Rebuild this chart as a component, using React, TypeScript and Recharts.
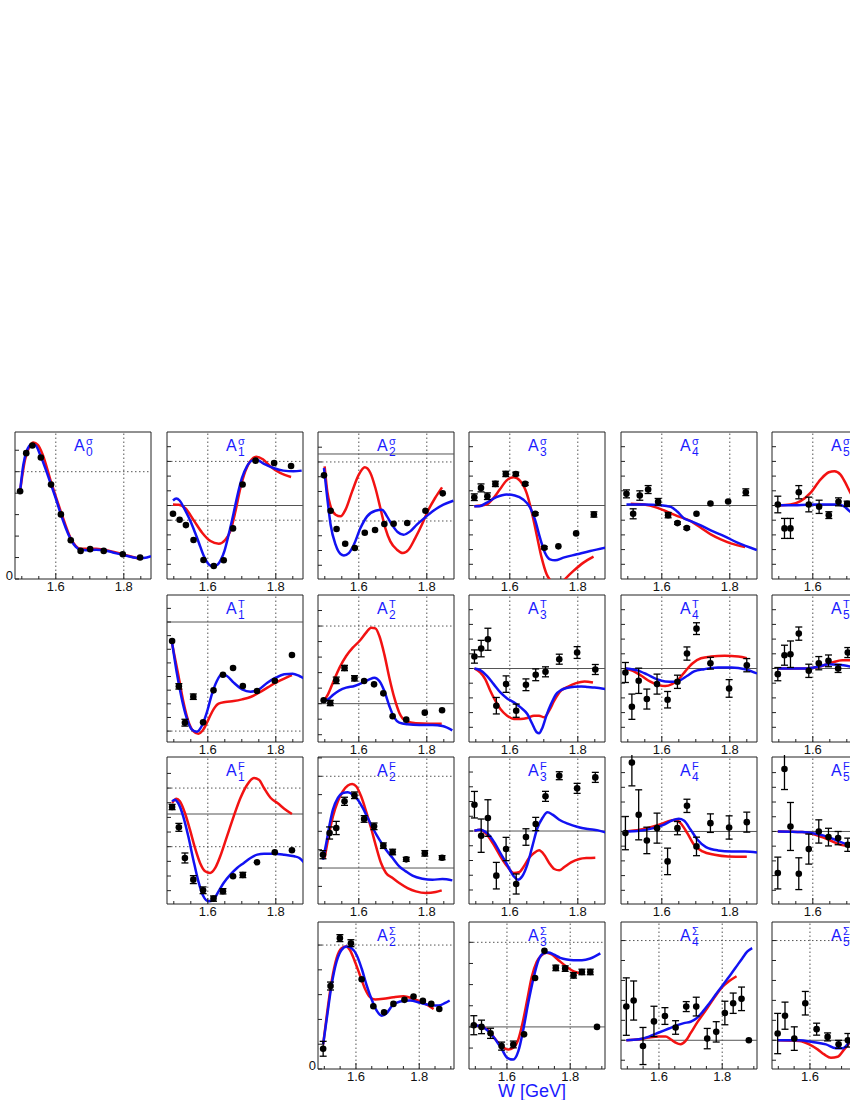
import React from 'react';
import { ComposedChart, Line, Scatter, XAxis, YAxis, ReferenceLine, ReferenceArea, ErrorBar } from 'recharts';

type Pt = [number, number, number]; // W [GeV], value, error
type Cv = [number, number]; // W [GeV], value

// ---------- A0 sigma ----------
const A0s_pts: Pt[] = [[1.495,0.818,0],[1.513,1.173,0],[1.531,1.244,0],[1.556,1.133,0],[1.586,0.88,0],[1.615,0.602,0],[1.644,0.361,0],[1.673,0.262,0],[1.701,0.278,0],[1.741,0.262,0],[1.797,0.231,0],[1.848,0.201,0]];
const A0s_red: Cv[] = [[1.495,0.818],[1.5095,1.111],[1.5215,1.225],[1.534,1.272],[1.547,1.25],[1.561,1.164],[1.586,0.904],[1.615,0.627],[1.644,0.38],[1.673,0.281],[1.7185,0.281],[1.758,0.262],[1.797,0.231],[1.848,0.185]];
const A0s_blue: Cv[] = [[1.495,0.818],[1.5045,1.065],[1.514,1.188],[1.529,1.256],[1.541,1.244],[1.554,1.157],[1.569,1.034],[1.586,0.88],[1.601,0.741],[1.615,0.602],[1.629,0.478],[1.644,0.37],[1.659,0.299],[1.673,0.272],[1.689,0.269],[1.7185,0.272],[1.741,0.269],[1.768,0.247],[1.797,0.225],[1.828,0.201],[1.848,0.194],[1.868,0.201],[1.88,0.214]];

// ---------- A1 sigma ----------
const A1s_pts: Pt[] = [[1.4976,-0.565,0],[1.5171,-0.972,0],[1.5356,-1.333,0],[1.558,-2.35,0],[1.5873,-3.706,0],[1.6176,-4.113,0],[1.6468,-3.729,0],[1.6741,-1.559,0],[1.7024,1.424,0],[1.7405,3.051,0],[1.7951,2.893,0],[1.8449,2.689,0]];
const A1s_red: Cv[] = [[1.4976,0.068],[1.5151,0.045],[1.5346,-0.203],[1.559,-1.017],[1.5834,-1.853],[1.6078,-2.418],[1.6322,-2.599],[1.6517,-2.328],[1.6663,-1.74],[1.681,-0.429],[1.6956,1.153],[1.7102,2.328],[1.7249,3.006],[1.7424,3.322],[1.762,3.141],[1.7834,2.667],[1.8127,2.215],[1.8449,1.943]];
const A1s_blue: Cv[] = [[1.4976,0.339],[1.5073,0.475],[1.5171,0.339],[1.5298,-0.158],[1.5444,-0.836],[1.559,-1.627],[1.5737,-2.531],[1.5883,-3.435],[1.6029,-4.0],[1.6146,-4.136],[1.6273,-4.045],[1.639,-3.661],[1.6488,-3.096],[1.6615,-1.966],[1.6761,-0.497],[1.6878,0.746],[1.7005,1.876],[1.7151,2.667],[1.7298,3.051],[1.7444,3.096],[1.7639,2.847],[1.7932,2.554],[1.8224,2.373],[1.8517,2.328],[1.8761,2.373]];

// ---------- A2 sigma ----------
const A2s_pts: Pt[] = [[1.4976,-1.446,0],[1.5171,-3.842,0],[1.5346,-5.085,0],[1.56,-6.079,0],[1.5883,-6.373,0],[1.6176,-5.333,0],[1.6478,-5.153,0],[1.6751,-4.746,0],[1.7024,-4.723,0],[1.7424,-4.678,0],[1.7961,-3.842,0],[1.8468,-2.667,0]];
const A2s_red: Cv[] = [[1.4995,-0.836],[1.5073,-2.531],[1.5171,-3.548],[1.5317,-4.113],[1.5463,-4.226],[1.561,-3.774],[1.5805,-2.531],[1.6,-1.401],[1.6176,-0.904],[1.6341,-1.288],[1.6488,-2.305],[1.6634,-3.661],[1.678,-5.017],[1.6927,-5.921],[1.7122,-6.486],[1.7298,-6.712],[1.7463,-6.486],[1.7659,-5.695],[1.7854,-4.791],[1.8049,-3.774],[1.8244,-2.983],[1.8449,-2.26]];
const A2s_blue: Cv[] = [[1.4976,-0.949],[1.5073,-2.983],[1.5171,-4.791],[1.5317,-6.147],[1.5463,-6.78],[1.5561,-6.87],[1.5707,-6.712],[1.5854,-6.147],[1.6049,-5.017],[1.6244,-4.226],[1.6488,-3.842],[1.6683,-3.774],[1.6829,-4.226],[1.6976,-4.791],[1.7141,-5.288],[1.7317,-5.469],[1.7512,-5.243],[1.7707,-4.791],[1.7951,-4.294],[1.8195,-3.842],[1.8488,-3.435],[1.878,-3.164]];

// ---------- A3 sigma ----------
const A3s_pts: Pt[] = [[1.4956,0.565,0.226],[1.5153,1.198,0.27],[1.534,0.633,0.226],[1.5576,1.469,0.18],[1.5882,2.147,0.18],[1.6177,2.147,0.12],[1.6453,1.469,0.1],[1.6749,-0.565,0.08],[1.7015,-2.87,0.08],[1.7429,-2.78,0],[1.7951,-1.898,0],[1.8473,-0.61,0.18]];
const A3s_red: Cv[] = [[1.4956,-0.045],[1.531,0.068],[1.5507,0.475],[1.5704,1.085],[1.5901,1.695],[1.6118,1.921],[1.6296,1.695],[1.6493,0.859],[1.664,-0.384],[1.6788,-1.966],[1.6936,-3.548],[1.7084,-4.678],[1.7232,-5.2],[1.7429,-5.5],[1.7626,-5.0],[1.7872,-4.452],[1.8167,-3.887],[1.8463,-3.48]];
const A3s_blue: Cv[] = [[1.4956,-0.045],[1.5113,-0.045],[1.531,0.181],[1.5606,0.565],[1.5901,0.746],[1.6148,0.678],[1.6394,0.407],[1.6591,-0.113],[1.6739,-0.949],[1.6887,-2.192],[1.7034,-3.209],[1.7182,-3.661],[1.733,-3.729],[1.7576,-3.548],[1.797,-3.322],[1.8365,-3.096],[1.8808,-2.87]];

// ---------- A4 sigma ----------
const A4s_pts: Pt[] = [[1.4961,0.791,0.27],[1.5157,-0.565,0.34],[1.5353,0.678,0.32],[1.5598,1.085,0.27],[1.5892,0.249,0.23],[1.6186,-0.655,0.18],[1.6461,-1.198,0.08],[1.6735,-1.537,0.08],[1.702,-0.565,0],[1.7431,0.136,0],[1.7951,0.271,0],[1.8471,0.904,0.23]];
const A4s_red: Cv[] = [[1.5088,0.113],[1.548,0.068],[1.5873,-0.158],[1.6167,-0.429],[1.6461,-0.723],[1.6853,-1.062],[1.7147,-1.514],[1.7441,-1.966],[1.7735,-2.305],[1.8029,-2.576],[1.8451,-2.825]];
const A4s_blue: Cv[] = [[1.4961,0.068],[1.548,0.068],[1.5971,0.023],[1.6265,-0.09],[1.6461,-0.429],[1.6657,-0.881],[1.6853,-1.062],[1.7147,-1.356],[1.7441,-1.695],[1.7833,-2.079],[1.8225,-2.531],[1.8794,-3.028]];

// ---------- A5 sigma ----------
const A5s_pts: Pt[] = [[1.4971,0.068,0.565],[1.5167,-1.559,0.68],[1.5343,-1.559,0.68],[1.5588,0.904,0.45],[1.5882,0.068,0.5],[1.6186,-0.09,0.45],[1.6471,-0.655,0.23],[1.6755,0.249,0.27],[1.701,0.113,0.18]];
const A5s_red: Cv[] = [[1.4971,0],[1.5343,0.068],[1.5637,0.294],[1.5931,0.859],[1.6225,1.763],[1.6471,2.26],[1.6637,2.328],[1.6814,2.102],[1.6961,1.537],[1.7108,0.859],[1.7304,0.181],[1.7696,-0.158]];
const A5s_blue: Cv[] = [[1.4971,0.023],[1.554,0.023],[1.6127,0.068],[1.6716,0.068],[1.6912,-0.045],[1.7059,-0.339],[1.7108,-0.429],[1.7304,-0.949],[1.7696,-1.288]];

// ---------- A1 T ----------
const A1T_pts: Pt[] = [[1.495,-1.394,0],[1.5149,-4.719,0.2],[1.5327,-7.384,0.25],[1.5574,-5.477,0.2],[1.5861,-7.359,0],[1.6168,-5.012,0],[1.6446,-3.863,0],[1.6743,-3.374,0],[1.703,-4.694,0],[1.7446,-5.061,0],[1.797,-4.303,0],[1.8475,-2.421,0]];
const A1T_red: Cv[] = [[1.495,-1.589],[1.5129,-3.839],[1.5277,-5.795],[1.5426,-7.262],[1.5574,-7.995],[1.5723,-8.191],[1.5871,-7.873],[1.602,-7.139],[1.6168,-6.406],[1.6317,-5.99],[1.6515,-5.868],[1.6762,-5.795],[1.701,-5.672],[1.7257,-5.501],[1.7505,-5.183],[1.7752,-4.817],[1.8,-4.45],[1.8248,-4.156],[1.8475,-3.888]];
const A1T_blue: Cv[] = [[1.495,-1.516],[1.5079,-3.594],[1.5228,-5.55],[1.5376,-7.017],[1.5525,-7.873],[1.5673,-8.044],[1.5822,-7.628],[1.597,-6.65],[1.6119,-5.306],[1.6267,-4.328],[1.6416,-3.839],[1.6564,-3.961],[1.6762,-4.45],[1.701,-4.939],[1.7257,-5.11],[1.7505,-4.939],[1.7752,-4.45],[1.8,-4.083],[1.8248,-3.839],[1.8495,-3.79],[1.8693,-3.961],[1.8842,-4.156]];

// ---------- A2 T ----------
const A2T_pts: Pt[] = [[1.4966,0.215,0],[1.5161,0.043,0.17],[1.5337,1.502,0.21],[1.558,2.296,0.17],[1.5873,1.631,0.17],[1.6156,1.459,0],[1.6449,1.245,0],[1.6722,0.665,0],[1.6995,-0.815,0],[1.7395,-1.03,0],[1.7941,-0.579,0],[1.8449,-0.429,0]];
const A2T_red: Cv[] = [[1.4966,0.172],[1.5093,0.601],[1.5239,1.352],[1.5434,2.318],[1.5629,3.069],[1.5824,3.605],[1.602,4.034],[1.6215,4.571],[1.6361,4.893],[1.6488,4.85],[1.6605,4.356],[1.6751,3.176],[1.6898,1.674],[1.7044,0.386],[1.719,-0.579],[1.7385,-1.116],[1.7678,-1.266],[1.8068,-1.288],[1.8439,-1.288]];
const A2T_blue: Cv[] = [[1.4966,0.172],[1.5093,0.279],[1.5239,0.558],[1.5434,0.858],[1.5629,1.03],[1.5873,1.137],[1.6117,1.352],[1.6312,1.567],[1.6459,1.674],[1.6605,1.459],[1.6751,0.815],[1.6898,-0.15],[1.7044,-0.901],[1.719,-1.223],[1.7434,-1.33],[1.7776,-1.373],[1.8166,-1.373],[1.8459,-1.438],[1.8751,-1.717]];

// ---------- A3 T ----------
const A3T_pts: Pt[] = [[1.496,0.814,0.45],[1.5158,1.356,0.56],[1.5356,1.989,0.75],[1.5604,-2.531,0.56],[1.5891,-1.062,0.56],[1.6188,-2.87,0.45],[1.6475,-1.107,0.4],[1.6762,-0.429,0.4],[1.705,-0.226,0.34],[1.7455,0.633,0.34],[1.798,1.085,0.4],[1.8515,-0.068,0.34]];
const A3T_red: Cv[] = [[1.496,0],[1.5129,-0.271],[1.5277,-0.723],[1.5426,-1.514],[1.5574,-2.192],[1.5723,-2.757],[1.5921,-3.209],[1.6119,-3.435],[1.6317,-3.435],[1.6515,-3.367],[1.6713,-3.209],[1.6861,-3.209],[1.701,-3.322],[1.7158,-2.87],[1.7307,-2.192],[1.7505,-1.514],[1.7703,-1.243],[1.795,-0.994],[1.8198,-0.881],[1.8446,-0.949]];
const A3T_blue: Cv[] = [[1.496,0],[1.5129,-0.113],[1.5327,-0.497],[1.5525,-1.062],[1.5723,-1.627],[1.5921,-2.034],[1.6119,-2.305],[1.6317,-2.644],[1.6515,-3.096],[1.6663,-3.774],[1.6792,-4.339],[1.6861,-4.407],[1.696,-4.023],[1.7089,-3.119],[1.7208,-2.441],[1.7356,-1.763],[1.7505,-1.469],[1.7703,-1.311],[1.7901,-1.243],[1.8099,-1.22],[1.8297,-1.26],[1.8495,-1.3],[1.8812,-1.4]];

// ---------- A4 T ----------
const A4T_pts: Pt[] = [[1.493,-0.271,0.68],[1.512,-2.599,0.86],[1.532,-0.836,0.86],[1.556,-2.079,0.68],[1.586,-1.062,0.68],[1.617,-2.124,0.56],[1.646,-0.904,0.45],[1.674,1.017,0.45],[1.702,2.712,0.4],[1.743,0.362,0.4],[1.798,-1.356,0.6],[1.85,0.226,0.45]];
const A4T_red: Cv[] = [[1.493,0],[1.515,-0.158],[1.54,-0.497],[1.565,-0.881],[1.59,-1.13],[1.61,-1.198],[1.63,-1.062],[1.65,-0.723],[1.67,-0.158],[1.69,0.339],[1.715,0.701],[1.745,0.814],[1.785,0.859],[1.825,0.814],[1.85,0.701]];
const A4T_blue: Cv[] = [[1.493,0],[1.525,-0.113],[1.555,-0.384],[1.585,-0.723],[1.61,-0.881],[1.635,-0.904],[1.655,-0.791],[1.675,-0.497],[1.695,-0.203],[1.725,-0.045],[1.765,0.068],[1.805,0.068],[1.845,-0.045],[1.88,-0.339]];

// ---------- A5 T ----------
const A5T_pts: Pt[] = [[1.4971,-0.384,0.45],[1.5167,0.904,0.68],[1.5343,0.972,0.9],[1.5588,2.373,0.45],[1.5882,-0.158,0.45],[1.6176,0.362,0.45],[1.6461,0.52,0.4],[1.6745,0,0.27],[1.7029,1.085,0.34]];
const A5T_red: Cv[] = [[1.4971,0],[1.5784,0],[1.6176,0.113],[1.6569,0.407],[1.6863,0.565],[1.7108,0.565]];
const A5T_blue: Cv[] = [[1.4971,0],[1.5784,0],[1.6176,0.136],[1.6471,0.294],[1.6765,0.249],[1.7108,0.136]];

// ---------- A1 F ----------
const A1F_pts: Pt[] = [[1.495,0.477,0.18],[1.5149,-0.909,0.27],[1.5327,-3.0,0.34],[1.5574,-4.477,0.27],[1.5861,-5.205,0.23],[1.6168,-5.773,0.18],[1.6446,-5.273,0.18],[1.6743,-4.25,0],[1.703,-4.159,0.18],[1.7446,-3.295,0],[1.797,-2.614,0],[1.8475,-2.477,0]];
const A1F_red: Cv[] = [[1.495,0.75],[1.5079,1.045],[1.5178,0.864],[1.5327,0.068],[1.5475,-1.068],[1.5624,-2.318],[1.5772,-3.341],[1.5921,-3.909],[1.6069,-4.023],[1.6218,-3.682],[1.6366,-2.886],[1.6564,-1.523],[1.6762,-0.159],[1.696,1.091],[1.7158,2.0],[1.7356,2.455],[1.7505,2.341],[1.7653,1.773],[1.7851,1.091],[1.805,0.75],[1.8248,0.364],[1.8475,0]];
const A1F_blue: Cv[] = [[1.495,0.864],[1.503,0.977],[1.5129,0.75],[1.5277,-0.159],[1.5426,-1.523],[1.5574,-3.114],[1.5723,-4.591],[1.5871,-5.614],[1.602,-5.955],[1.6168,-5.841],[1.6317,-5.273],[1.6465,-4.705],[1.6663,-4.136],[1.6861,-3.682],[1.7059,-3.341],[1.7257,-3.0],[1.7455,-2.773],[1.7653,-2.705],[1.795,-2.705],[1.8248,-2.773],[1.8545,-2.886],[1.8693,-3.0],[1.8842,-3.341]];

// ---------- A2 F ----------
const A2F_pts: Pt[] = [[1.4946,0.727,0.22],[1.5141,1.909,0.33],[1.5337,2.182,0.36],[1.558,3.636,0.22],[1.5873,3.964,0.18],[1.6156,2.673,0.18],[1.6449,2.273,0.18],[1.6722,1.218,0.15],[1.6995,0.873,0.15],[1.7395,0.473,0.11],[1.7941,0.8,0.15],[1.8449,0.564,0.11]];
const A2F_red: Cv[] = [[1.4995,0.545],[1.5093,1.545],[1.5239,2.818],[1.5385,3.636],[1.5532,4.182],[1.5678,4.491],[1.5805,4.582],[1.5922,4.455],[1.6068,3.909],[1.6215,3.091],[1.6361,2.182],[1.6507,1.182],[1.6654,0.273],[1.68,-0.273],[1.6995,-0.545],[1.719,-0.818],[1.7434,-1.091],[1.7678,-1.273],[1.7971,-1.364],[1.8263,-1.309],[1.8439,-1.218]];
const A2F_blue: Cv[] = [[1.4946,0.455],[1.5044,1.364],[1.5141,2.364],[1.5239,3.182],[1.5385,3.818],[1.5532,4.091],[1.5678,4.127],[1.5824,4.0],[1.5971,3.727],[1.6117,3.273],[1.6263,2.727],[1.641,2.182],[1.6605,1.545],[1.68,1.0],[1.6995,0.545],[1.719,0.091],[1.7385,-0.182],[1.758,-0.418],[1.7873,-0.582],[1.8166,-0.636],[1.8459,-0.6],[1.8751,-0.673]];

// ---------- A3 F ----------
const A3F_pts: Pt[] = [[1.496,1.785,0.9],[1.5158,-0.316,1.13],[1.5356,0.881,1.24],[1.5604,-3.028,0.9],[1.5891,-1.22,0.79],[1.6188,-3.593,0.68],[1.6475,-0.407,0.56],[1.6762,0.475,0.45],[1.705,2.35,0.34],[1.7455,3.751,0.27],[1.798,2.893,0.34],[1.8515,3.638,0.34]];
const A3F_red: Cv[] = [[1.496,0.023],[1.5129,0.09],[1.5327,-0.249],[1.5525,-0.927],[1.5723,-1.718],[1.5921,-2.395],[1.6119,-2.847],[1.6267,-2.802],[1.6416,-2.395],[1.6564,-1.831],[1.6713,-1.492],[1.6861,-1.311],[1.701,-1.605],[1.7158,-2.169],[1.7307,-2.576],[1.7455,-2.667],[1.7604,-2.441],[1.7802,-2.124],[1.805,-1.898],[1.8297,-1.831],[1.8515,-1.808]];
const A3F_blue: Cv[] = [[1.496,0.023],[1.5129,0.09],[1.5327,-0.136],[1.5525,-0.701],[1.5723,-1.492],[1.5921,-2.282],[1.6119,-3.073],[1.6238,-3.299],[1.6366,-3.073],[1.6515,-2.282],[1.6663,-1.04],[1.6812,0.203],[1.696,0.881],[1.7109,1.266],[1.7257,1.108],[1.7455,0.768],[1.7703,0.497],[1.8,0.271],[1.8297,0.136],[1.8594,0.045],[1.8812,-0.09]];

// ---------- A4 F ----------
const A4F_pts: Pt[] = [[1.493,-0.113,1.13],[1.512,4.678,1.58],[1.532,1.13,1.7],[1.556,-0.61,0.9],[1.586,0.226,1.02],[1.617,-2.034,0.9],[1.646,0.226,0.45],[1.674,1.74,0.45],[1.702,-1.017,0.63],[1.743,0.565,0.63],[1.798,0.271,0.79],[1.85,0.633,0.68]];
const A4F_red: Cv[] = [[1.493,0],[1.535,0.113],[1.575,0.339],[1.605,0.565],[1.625,0.723],[1.64,0.791],[1.655,0.565],[1.675,-0.113],[1.695,-0.904],[1.72,-1.356],[1.755,-1.582],[1.795,-1.695],[1.85,-1.718]];
const A4F_blue: Cv[] = [[1.493,0],[1.535,0.045],[1.575,0.226],[1.605,0.452],[1.63,0.746],[1.65,0.859],[1.665,0.746],[1.685,0.113],[1.705,-0.565],[1.73,-1.062],[1.765,-1.288],[1.805,-1.356],[1.845,-1.356],[1.88,-1.424]];

// ---------- A5 F ----------
const A5F_pts: Pt[] = [[1.4971,-2.825,1.08],[1.5167,4.249,1.4],[1.5343,0.339,1.63],[1.5588,-2.87,1.08],[1.5882,-1.198,1.02],[1.6176,0,0.79],[1.6461,-0.384,0.6],[1.6745,-0.452,0.45],[1.7029,-0.904,0.45]];
const A5F_red: Cv[] = [[1.4971,0],[1.5686,-0.045],[1.6078,-0.226],[1.6471,-0.565],[1.6765,-0.859],[1.7108,-1.017]];
const A5F_blue: Cv[] = [[1.4971,0],[1.5686,-0.045],[1.6078,-0.158],[1.6471,-0.384],[1.6765,-0.678],[1.7108,-0.949]];

// ---------- A2 Sigma ----------
const A2S_pts: Pt[] = [[1.4963,0.816,0.3],[1.5196,3.347,0.16],[1.5492,5.279,0.14],[1.5841,5.075,0.14],[1.618,3.619,0],[1.655,2.531,0],[1.6889,2.286,0],[1.7185,2.626,0],[1.7534,2.789,0],[1.782,2.925,0],[1.8116,2.748,0],[1.8381,2.626,0],[1.8635,2.422,0]];
const A2S_red: Cv[] = [[1.4963,0.993],[1.509,2.286],[1.5228,3.51],[1.5386,4.463],[1.5545,4.871],[1.5683,4.939],[1.581,4.803],[1.5968,4.327],[1.6127,3.782],[1.6286,3.238],[1.6444,2.898],[1.6603,2.803],[1.6868,2.83],[1.7185,2.898],[1.7503,2.939],[1.782,2.83],[1.8138,2.667],[1.8455,2.422]];
const A2S_blue: Cv[] = [[1.4963,0.993],[1.509,2.15],[1.5228,3.374],[1.5386,4.327],[1.5545,4.803],[1.5704,4.939],[1.5862,4.871],[1.6021,4.599],[1.618,4.054],[1.6339,3.374],[1.6497,2.803],[1.6656,2.354],[1.6815,2.15],[1.6974,2.259],[1.7132,2.531],[1.7397,2.721],[1.7714,2.762],[1.8032,2.667],[1.8349,2.585],[1.8614,2.558],[1.8825,2.667],[1.8963,2.762]];

// ---------- A3 Sigma ----------
const A3S_pts: Pt[] = [[1.4952,0.08,0.45],[1.5196,0,0.32],[1.5481,-0.303,0.24],[1.5831,-0.908,0.19],[1.6201,-0.829,0.16],[1.654,-0.351,0],[1.6889,2.311,0],[1.7185,3.602,0],[1.7545,2.789,0.13],[1.7841,2.757,0.13],[1.8106,2.438,0.13],[1.837,2.598,0.13],[1.8635,2.598,0.13],[1.8847,0,0]];
const A3S_red: Cv[] = [[1.4952,0.08],[1.5196,0],[1.5407,-0.143],[1.5619,-0.558],[1.5831,-0.908],[1.6042,-1.068],[1.6201,-0.988],[1.636,-0.59],[1.6497,0.207],[1.6646,1.323],[1.6783,2.359],[1.6942,3.076],[1.7101,3.394],[1.7259,3.506],[1.7418,3.426],[1.763,3.155],[1.7894,2.837],[1.8159,2.598],[1.837,2.518]];
const A3S_blue: Cv[] = [[1.4952,0.08],[1.5196,0.016],[1.5407,-0.191],[1.5619,-0.558],[1.5831,-1.036],[1.6011,-1.466],[1.6201,-1.546],[1.636,-1.147],[1.6519,-0.112],[1.6677,1.163],[1.6836,2.279],[1.6995,3.155],[1.7153,3.474],[1.7312,3.522],[1.7471,3.426],[1.7683,3.267],[1.7894,3.187],[1.8106,3.155],[1.837,3.155],[1.8635,3.235],[1.8952,3.474]];

// ---------- A4 Sigma ----------
const A4S_pts: Pt[] = [[1.4968,1.689,1.44],[1.52,1.993,0.98],[1.5495,-0.287,0.93],[1.5842,0.946,0.76],[1.6189,1.216,0.42],[1.6526,0.642,0.34],[1.6863,1.689,0.25],[1.7179,1.689,0.47],[1.7526,0.084,0.51],[1.7811,0.422,0.51],[1.8084,1.368,0.59],[1.8347,1.858,0.51],[1.8611,2.078,0.59],[1.8842,0,0]];
const A4S_red: Cv[] = [[1.4968,0],[1.5368,0.051],[1.5684,0.135],[1.6,0.186],[1.6211,0.186],[1.6368,0.051],[1.6526,-0.118],[1.6684,-0.203],[1.6842,-0.034],[1.7,0.355],[1.7211,0.895],[1.7474,1.486],[1.7737,2.111],[1.8,2.669],[1.8211,2.956],[1.8453,3.209]];
const A4S_blue: Cv[] = [[1.4968,0],[1.5368,0.051],[1.5684,0.186],[1.6,0.389],[1.6316,0.591],[1.6579,0.76],[1.6789,0.861],[1.7,0.929],[1.7158,1.064],[1.7368,1.402],[1.7579,1.824],[1.7789,2.28],[1.8,2.72],[1.8211,3.176],[1.8421,3.632],[1.8632,4.105],[1.8789,4.443],[1.8947,4.62]];

// ---------- A5 Sigma ----------
const A5S_pts: Pt[] = [[1.4979,0.338,1.01],[1.5211,1.233,0.68],[1.5505,0.084,0.59],[1.5853,1.858,0.59],[1.6211,0.557,0.3],[1.6558,0.169,0.2],[1.6905,-0.203,0.2],[1.72,0,0.34]];
const A5S_red: Cv[] = [[1.4979,0],[1.5663,-0.034],[1.5979,-0.203],[1.6242,-0.456],[1.6453,-0.709],[1.6663,-0.878],[1.6874,-0.828],[1.7084,-0.456],[1.7295,-0.034]];
const A5S_blue: Cv[] = [[1.4979,0],[1.5663,0],[1.6084,-0.084],[1.6505,-0.203],[1.6821,-0.405],[1.7032,-0.405],[1.7295,0.051]];

// ---------- axis tick lists ----------
const X_TICKS_TOP = [1.5, 1.55, 1.6, 1.65, 1.7, 1.75, 1.8, 1.85];
const X_TICKS_BOT = [1.5, 1.55, 1.6, 1.65, 1.7, 1.75, 1.8, 1.85, 1.9];
const X_LABELS = [1.6, 1.8];
const Y_TICKS_SYM = [-4, -3, -2, -1, 0, 1, 2, 3, 4];
const Y_TICKS_A0s = [0, 0.2, 0.4, 0.6, 0.8, 1.0, 1.2];
const Y_TICKS_A2s = [0.46, -0.54, -1.54, -2.54, -3.54, -4.54, -5.54, -6.54, -7.54];
const Y_TICKS_A1T = [1, 0, -1, -2, -3, -4, -5, -6, -7, -8];
const Y_TICKS_A2T = [-2, -1, 0, 1, 2, 3, 4, 5, 6];
const Y_TICKS_A1F = [2.77, 1.77, 0.77, -0.23, -1.23, -2.23, -3.23, -4.23, -5.23];
const Y_TICKS_A2F = [-1, 0, 1, 2, 3, 4, 5, 6];
const Y_TICKS_A2S = [0, 1, 2, 3, 4, 5];
const Y_TICKS_A3S = [-1, 0, 1, 2, 3, 4];
const Y_TICKS_A45S = [-1, 0, 1, 2, 3, 4, 5];

// ---------- layout / style ----------
const FONT = '"Liberation Sans", Arial, Helvetica, sans-serif';
const BLUE = '#1212f2';
const RED = '#f21212';
const TITLE_BLUE = '#1a1aff';
const COL_X = [15, 167, 318, 469, 621, 772];
const ROW_Y = [432, 595, 757, 922];
const FRAME_W = 136;
const FRAME_H = 147;
const AX_W = 20;
const X_DOM_TOP: [number, number] = [1.48, 1.88];
const X_DOM_BOT: [number, number] = [1.48, 1.91];

interface PanelCfg {
  sub: string; sup: string; col: number; row: number;
  pts: Pt[]; red: Cv[]; blue: Cv[];
  yDom: [number, number]; yTicks: number[]; dotted: number[];
  zero: boolean; zeroLabel?: boolean;
}

const PANELS: PanelCfg[] = [
  { sub: '0', sup: 'σ', col: 0, row: 0, pts: A0s_pts, red: A0s_red, blue: A0s_blue, yDom: [0, 1.37], yTicks: Y_TICKS_A0s, dotted: [1.0], zero: false, zeroLabel: true },
  { sub: '1', sup: 'σ', col: 1, row: 0, pts: A1s_pts, red: A1s_red, blue: A1s_blue, yDom: [-5, 5], yTicks: Y_TICKS_SYM, dotted: [3, -1], zero: true },
  { sub: '2', sup: 'σ', col: 2, row: 0, pts: A2s_pts, red: A2s_red, blue: A2s_blue, yDom: [-8.47, 1.49], yTicks: Y_TICKS_A2s, dotted: [-0.54, -4.54], zero: true },
  { sub: '3', sup: 'σ', col: 3, row: 0, pts: A3s_pts, red: A3s_red, blue: A3s_blue, yDom: [-5, 5], yTicks: Y_TICKS_SYM, dotted: [], zero: true },
  { sub: '4', sup: 'σ', col: 4, row: 0, pts: A4s_pts, red: A4s_red, blue: A4s_blue, yDom: [-5, 5], yTicks: Y_TICKS_SYM, dotted: [], zero: true },
  { sub: '5', sup: 'σ', col: 5, row: 0, pts: A5s_pts, red: A5s_red, blue: A5s_blue, yDom: [-5, 5], yTicks: Y_TICKS_SYM, dotted: [], zero: true },
  { sub: '1', sup: 'T', col: 1, row: 1, pts: A1T_pts, red: A1T_red, blue: A1T_blue, yDom: [-8.8, 1.98], yTicks: Y_TICKS_A1T, dotted: [-8], zero: true },
  { sub: '2', sup: 'T', col: 2, row: 1, pts: A2T_pts, red: A2T_red, blue: A2T_blue, yDom: [-2.47, 7.0], yTicks: Y_TICKS_A2T, dotted: [5], zero: true },
  { sub: '3', sup: 'T', col: 3, row: 1, pts: A3T_pts, red: A3T_red, blue: A3T_blue, yDom: [-5, 5], yTicks: Y_TICKS_SYM, dotted: [], zero: true },
  { sub: '4', sup: 'T', col: 4, row: 1, pts: A4T_pts, red: A4T_red, blue: A4T_blue, yDom: [-5, 5], yTicks: Y_TICKS_SYM, dotted: [], zero: true },
  { sub: '5', sup: 'T', col: 5, row: 1, pts: A5T_pts, red: A5T_red, blue: A5T_blue, yDom: [-5, 5], yTicks: Y_TICKS_SYM, dotted: [], zero: true },
  { sub: '1', sup: 'F', col: 1, row: 2, pts: A1F_pts, red: A1F_red, blue: A1F_blue, yDom: [-6.14, 3.89], yTicks: Y_TICKS_A1F, dotted: [1.77, -2.23], zero: true },
  { sub: '2', sup: 'F', col: 2, row: 2, pts: A2F_pts, red: A2F_red, blue: A2F_blue, yDom: [-1.96, 6.05], yTicks: Y_TICKS_A2F, dotted: [5], zero: true },
  { sub: '3', sup: 'F', col: 3, row: 2, pts: A3F_pts, red: A3F_red, blue: A3F_blue, yDom: [-4.95, 5.02], yTicks: Y_TICKS_SYM, dotted: [], zero: true },
  { sub: '4', sup: 'F', col: 4, row: 2, pts: A4F_pts, red: A4F_red, blue: A4F_blue, yDom: [-4.93, 5.06], yTicks: Y_TICKS_SYM, dotted: [], zero: true },
  { sub: '5', sup: 'F', col: 5, row: 2, pts: A5F_pts, red: A5F_red, blue: A5F_blue, yDom: [-4.93, 5.06], yTicks: Y_TICKS_SYM, dotted: [], zero: true },
  { sub: '2', sup: 'Σ', col: 2, row: 3, pts: A2S_pts, red: A2S_red, blue: A2S_blue, yDom: [0, 5.93], yTicks: Y_TICKS_A2S, dotted: [5], zero: false, zeroLabel: true },
  { sub: '3', sup: 'Σ', col: 3, row: 3, pts: A3S_pts, red: A3S_red, blue: A3S_blue, yDom: [-1.99, 4.96], yTicks: Y_TICKS_A3S, dotted: [4], zero: true },
  { sub: '4', sup: 'Σ', col: 4, row: 3, pts: A4S_pts, red: A4S_red, blue: A4S_blue, yDom: [-1.44, 5.93], yTicks: Y_TICKS_A45S, dotted: [5], zero: true },
  { sub: '5', sup: 'Σ', col: 5, row: 3, pts: A5S_pts, red: A5S_red, blue: A5S_blue, yDom: [-1.44, 5.93], yTicks: Y_TICKS_A45S, dotted: [5], zero: true },
];

const renderDot = (p: any) => <circle cx={p.cx} cy={p.cy} r={3.3} fill="#000" />;

function Panel({ cfg }: { cfg: PanelCfg }) {
  const isBottom = cfg.row === 3;
  const xDom = isBottom ? X_DOM_BOT : X_DOM_TOP;
  const xTicks = isBottom ? X_TICKS_BOT : X_TICKS_TOP;
  const pts = cfg.pts.map(([w, v, e]) => ({ w, v, e }));
  const red = cfg.red.map(([w, v]) => ({ w, v }));
  const blue = cfg.blue.map(([w, v]) => ({ w, v }));

  const renderXTick = (p: any) => {
    const { x, y, payload } = p;
    const val = payload.value as number;
    const major = X_LABELS.some((m) => Math.abs(m - val) < 1e-6);
    return (
      <g>
        <line x1={x} x2={x} y1={y} y2={y - (major ? 6 : 3)} stroke="#222" strokeWidth={1} />
        {major ? (
          <text x={x} y={y + 12} textAnchor="middle" fontSize={13} fontFamily={FONT} fill="#111">
            {val.toFixed(1)}
          </text>
        ) : null}
      </g>
    );
  };

  const renderYTick = (p: any) => {
    const { x, y, payload } = p;
    return (
      <g>
        <line x1={x} x2={x + 4} y1={y} y2={y} stroke="#222" strokeWidth={1} />
        {cfg.zeroLabel && payload.value === 0 ? (
          <text x={x - 2} y={y + 1} textAnchor="end" fontSize={13} fontFamily={FONT} fill="#111">0</text>
        ) : null}
      </g>
    );
  };

  return (
    <div style={{ position: 'absolute', left: COL_X[cfg.col] - AX_W, top: ROW_Y[cfg.row] - 2 }}>
      <ComposedChart width={AX_W + FRAME_W + 6} height={FRAME_H + 26} margin={{ top: 2, right: 6, bottom: 0, left: 0 }}>
        <XAxis dataKey="w" type="number" domain={xDom} allowDataOverflow ticks={xTicks} interval={0}
          tickLine={false} axisLine={false} tickSize={0} tickMargin={0} tick={renderXTick} height={24} />
        <YAxis dataKey="v" type="number" domain={cfg.yDom} allowDataOverflow ticks={cfg.yTicks} interval={0}
          tickLine={false} axisLine={false} tickSize={0} tickMargin={0} tick={renderYTick} width={AX_W} />
        <ReferenceLine x={1.6} stroke="#555" strokeDasharray="1.5 2.5" strokeWidth={1} />
        <ReferenceLine x={1.8} stroke="#555" strokeDasharray="1.5 2.5" strokeWidth={1} />
        {cfg.dotted.map((d) => (
          <ReferenceLine key={'d' + d} y={d} stroke="#555" strokeDasharray="1.5 2.5" strokeWidth={1} />
        ))}
        {cfg.zero ? <ReferenceLine y={0} stroke="#555" strokeWidth={1} /> : null}
        <Line data={red} dataKey="v" type="monotone" stroke={RED} strokeWidth={2.5} dot={false} activeDot={false} isAnimationActive={false} />
        <Line data={blue} dataKey="v" type="monotone" stroke={BLUE} strokeWidth={2.5} dot={false} activeDot={false} isAnimationActive={false} />
        <Scatter data={pts} dataKey="v" fill="#000" shape={renderDot} isAnimationActive={false}>
          <ErrorBar dataKey="e" direction="y" width={3.5} stroke="#000" strokeWidth={1.3} />
        </Scatter>
        <ReferenceArea x1={xDom[0]} x2={xDom[1]} y1={cfg.yDom[0]} y2={cfg.yDom[1]} fill="none" fillOpacity={0}
          stroke="#222" strokeWidth={1} ifOverflow="visible" />
      </ComposedChart>
    </div>
  );
}

export default function App() {
  return (
    <div style={{ position: 'absolute', left: 0, top: 0, width: 850, height: 1100, overflow: 'hidden', background: '#fff', fontFamily: FONT }}>
      {PANELS.map((cfg, i) => (
        <Panel key={i} cfg={cfg} />
      ))}
      <svg width={850} height={1100} style={{ position: 'absolute', left: 0, top: 0, pointerEvents: 'none' }}>
        {PANELS.map((cfg, i) => {
          const fx = COL_X[cfg.col];
          const fy = ROW_Y[cfg.row];
          return (
            <g key={'t' + i} fill={TITLE_BLUE} fontFamily={FONT}>
              <text x={fx + 59} y={fy + 19} fontSize={16}>A</text>
              <text x={fx + 71} y={fy + 24} fontSize={12}>{cfg.sub}</text>
              <text x={fx + 71} y={fy + 13} fontSize={11}>{cfg.sup}</text>
            </g>
          );
        })}
        <text x={532} y={1097} textAnchor="middle" fontSize={18} fill={TITLE_BLUE} fontFamily={FONT}>W [GeV]</text>
      </svg>
    </div>
  );
}
